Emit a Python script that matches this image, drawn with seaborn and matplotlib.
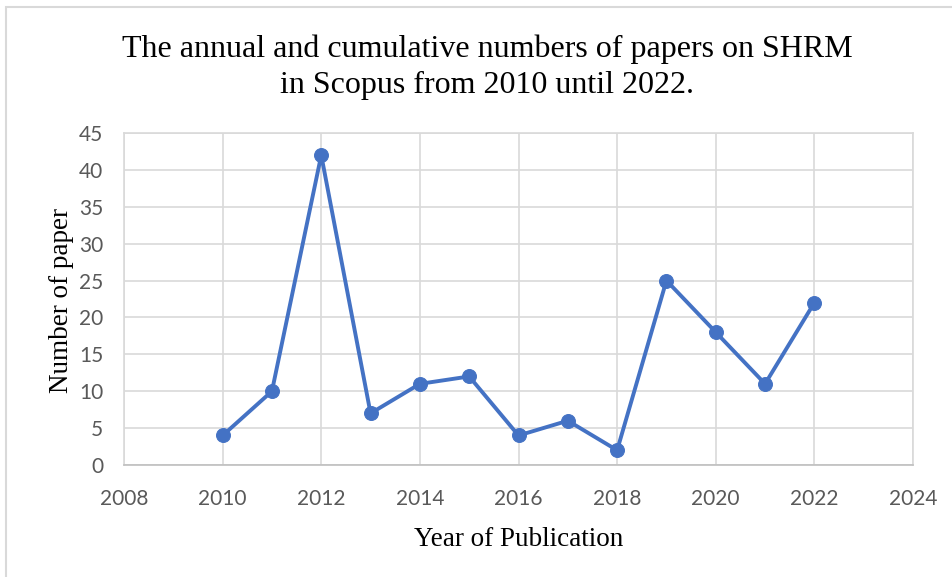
import matplotlib
matplotlib.use("Agg")
import matplotlib.pyplot as plt
import seaborn as sns
import pandas as pd
from matplotlib.patches import Rectangle

years = [2010, 2011, 2012, 2013, 2014, 2015, 2016, 2017, 2018, 2019, 2020, 2021, 2022]
papers = [4, 10, 42, 7, 11, 12, 4, 6, 2, 25, 18, 11, 22]
x_ticks = [2008, 2010, 2012, 2014, 2016, 2018, 2020, 2022, 2024]
y_ticks = [0, 5, 10, 15, 20, 25, 30, 35, 40, 45]
title = "The annual and cumulative numbers of papers on SHRM\nin Scopus from 2010 until 2022."

df = pd.DataFrame({"Year": years, "Papers": papers})

sns.set_theme(style="white")
fig = plt.figure(figsize=(9.53, 5.77), dpi=100)
ax = fig.add_axes([124/953, 1-465/577, (913-124)/953, (465-133)/577])

sns.lineplot(data=df, x="Year", y="Papers", ax=ax, color="#4472C4", linewidth=2.8,
             marker="o", markersize=10, markeredgecolor="#4472C4", markerfacecolor="#4472C4")

ax.set_xlim(2008, 2024)
ax.set_ylim(0, 45)
ax.set_xticks(x_ticks)
ax.set_yticks(y_ticks)
ax.grid(True, color="#D9D9D9", linewidth=1.2)
ax.set_axisbelow(True)
for s in ax.spines.values():
    s.set_color("#D9D9D9")
    s.set_linewidth(1.2)
ax.spines["bottom"].set_color("#BFBFBF")
ax.tick_params(axis="x", length=0, labelsize=15, labelcolor="#595959", pad=17)
ax.tick_params(axis="y", length=0, labelsize=15, labelcolor="#595959", pad=15)
for lab in ax.get_xticklabels() + ax.get_yticklabels():
    lab.set_family("Lato")

serif = "Liberation Serif"
ax.set_xlabel("Year of Publication", family=serif, fontsize=19.5, color="black")
ax.set_ylabel("Number of paper", family=serif, fontsize=19.5, color="black")
ax.xaxis.set_label_coords(0.5, (465-539)/332)
ax.xaxis.label.set_va("center")
ax.yaxis.set_label_coords((62-124)/789, 0.494)
ax.yaxis.label.set_va("center")
fig.text(487/953, 1-67/577, title, family=serif, fontsize=23, ha="center", va="center",
         linespacing=1.3, color="black")

fig.patches.append(Rectangle((6/953, -0.1), 1.1, 1-7/577+0.1, transform=fig.transFigure,
                             fill=False, edgecolor="#D9D9D9", linewidth=1.5, zorder=-1))

fig.savefig("out.png", dpi=100, facecolor="white")
